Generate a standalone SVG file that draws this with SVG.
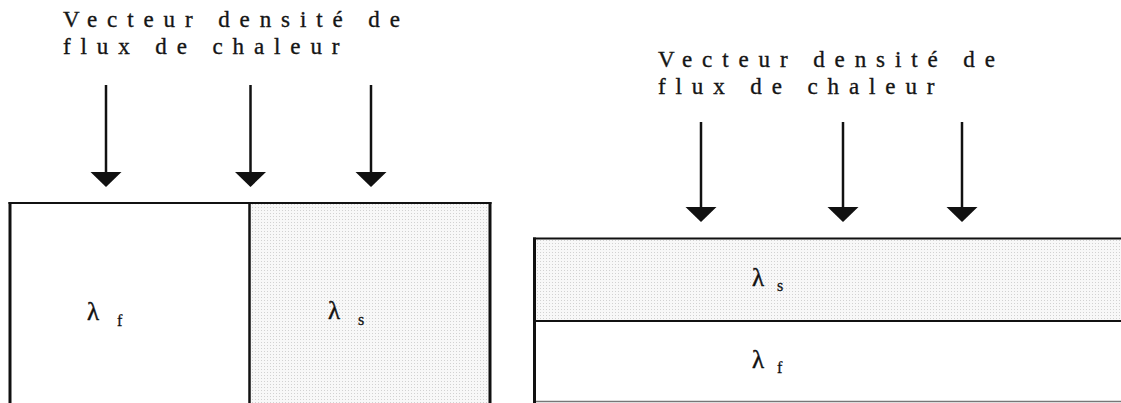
<svg xmlns="http://www.w3.org/2000/svg" width="1121" height="403" viewBox="0 0 1121 403">
  <style>
    .cap { font-family: "Liberation Serif", "Times New Roman", serif; font-size: 23px; fill: #151515; stroke: #151515; stroke-width: 0.35; letter-spacing: 9.9px; }
    .lam { font-family: "Liberation Serif", "DejaVu Serif", serif; font-size: 25px; fill: #111; stroke: #111; stroke-width: 0.4; }
    .sub { font-family: "Liberation Serif", "Times New Roman", serif; font-size: 16px; fill: #111; stroke: #111; stroke-width: 0.3; }
    .shaft { stroke: #111; stroke-width: 2.5; fill: none; }
    .head { fill: #111; }
    .edge { stroke: #111; fill: none; }
  </style>
  <defs>
    <!-- fine stippled fill for the solid phase -->
    <pattern id="dots" width="3" height="3" patternUnits="userSpaceOnUse">
      <rect width="3" height="3" fill="#f8f8f8"/>
      <rect width="1" height="1" fill="#d2d2d2"/>
    </pattern>
  </defs>
  <rect width="1121" height="403" fill="#ffffff"/>

  <!-- Left configuration: phases side by side -->
  <g id="left-fluid">
    <rect x="10" y="203" width="239.5" height="200" fill="#ffffff"/>
    <text class="lam" x="87" y="320">λ</text>
    <text class="sub" x="117" y="326">f</text>
  </g>
  <g id="left-solid">
    <rect x="249.5" y="203" width="240.5" height="200" fill="url(#dots)"/>
    <text class="lam" x="328" y="319">λ</text>
    <text class="sub" x="358" y="325">s</text>
  </g>
  <g id="left-frame">
    <line class="edge" x1="8.5" y1="203" x2="491.5" y2="203" stroke-width="2"/>
    <line class="edge" x1="10" y1="202" x2="10" y2="403" stroke-width="3"/>
    <line class="edge" x1="249.5" y1="202" x2="249.5" y2="403" stroke-width="2.5"/>
    <line class="edge" x1="490" y1="202" x2="490" y2="403" stroke-width="3"/>
  </g>
  <g id="left-caption">
    <text class="cap" x="63" y="27">Vecteur densité de</text>
    <text class="cap" x="63" y="54">flux de chaleur</text>
  </g>

  <!-- Right configuration: phases stacked -->
  <g id="right-solid">
    <rect x="534" y="238.5" width="587" height="82.5" fill="url(#dots)"/>
    <text class="lam" x="752" y="286">λ</text>
    <text class="sub" x="777" y="291">s</text>
  </g>
  <g id="right-fluid">
    <rect x="534" y="321" width="587" height="80" fill="#ffffff"/>
    <text class="lam" x="752" y="368">λ</text>
    <text class="sub" x="777" y="373">f</text>
  </g>
  <g id="right-frame">
    <line class="edge" x1="533" y1="238.5" x2="1121" y2="238.5" stroke-width="2"/>
    <line class="edge" x1="533" y1="321" x2="1121" y2="321" stroke-width="2"/>
    <line x1="533" y1="401.5" x2="1121" y2="401.5" stroke="#777" stroke-width="1.5"/>
    <line class="edge" x1="534.5" y1="237.5" x2="534.5" y2="403" stroke-width="3"/>
  </g>
  <g id="right-caption">
    <text class="cap" x="658" y="67">Vecteur densité de</text>
    <text class="cap" x="658" y="94">flux de chaleur</text>
  </g>

  <!-- Heat flux arrows -->
  <g id="connectors">
    <line class="shaft" x1="106" y1="85" x2="106" y2="174"/>
    <polygon class="head" points="90.5,172 121.5,172 106,187"/>
    <line class="shaft" x1="250.5" y1="85" x2="250.5" y2="174"/>
    <polygon class="head" points="235,172 266,172 250.5,187"/>
    <line class="shaft" x1="371" y1="85" x2="371" y2="174"/>
    <polygon class="head" points="355.5,172 386.5,172 371,187"/>

    <line class="shaft" x1="701" y1="122" x2="701" y2="210"/>
    <polygon class="head" points="685.5,207 716.5,207 701,222"/>
    <line class="shaft" x1="843" y1="122" x2="843" y2="210"/>
    <polygon class="head" points="827.5,207 858.5,207 843,222"/>
    <line class="shaft" x1="962" y1="122" x2="962" y2="210"/>
    <polygon class="head" points="946.5,207 977.5,207 962,222"/>
  </g>
</svg>
